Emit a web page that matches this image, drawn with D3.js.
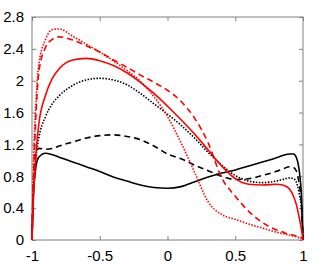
<!DOCTYPE html>
<html>
<head>
<meta charset="utf-8">
<script src="https://cdn.jsdelivr.net/npm/d3@7"></script>
<style>
  body { margin: 0; background: #fff; }
  svg { display: block; }
</style>
</head>
<body>
<div id="chart"></div>
<script>
// x positions shared by every curve
var xs = [-1, -0.99, -0.97, -0.95, -0.9, -0.85, -0.8, -0.7, -0.6, -0.5, -0.4, -0.3, -0.2, -0.1,
          0, 0.1, 0.2, 0.3, 0.4, 0.5, 0.6, 0.7, 0.8, 0.85, 0.9, 0.93, 0.95, 0.97, 0.99, 1];

var blackSolid  = [0, 0.55, 0.93, 1.04, 1.09, 1.07, 1.04, 0.98, 0.92, 0.86, 0.79, 0.74, 0.69, 0.66,
                   0.65, 0.67, 0.73, 0.79, 0.84, 0.88, 0.93, 0.98, 1.03, 1.06, 1.08, 1.08, 1.04, 0.9, 0.5, 0];
var blackDashed = [0, 0.7, 1.08, 1.15, 1.14, 1.15, 1.18, 1.23, 1.28, 1.31, 1.32, 1.30, 1.26, 1.18,
                   1.08, 1.02, 0.94, 0.87, 0.80, 0.76, 0.77, 0.81, 0.86, 0.89, 0.92, 0.91, 0.87, 0.72, 0.4, 0];
var blackDotted = [0, 0.6, 1.05, 1.28, 1.55, 1.71, 1.81, 1.94, 2.01, 2.03, 2.01, 1.95, 1.84, 1.71,
                   1.58, 1.44, 1.28, 1.10, 0.94, 0.81, 0.74, 0.72, 0.74, 0.76, 0.78, 0.77, 0.73, 0.6, 0.35, 0];
var redSolid    = [0, 0.5, 1.1, 1.45, 1.82, 2.03, 2.15, 2.26, 2.28, 2.25, 2.19, 2.10, 1.98, 1.84,
                   1.68, 1.51, 1.33, 1.13, 0.93, 0.77, 0.70, 0.69, 0.70, 0.69, 0.64, 0.55, 0.45, 0.3, 0.12, 0];
var redDashed   = [0, 0.7, 1.6, 2.1, 2.42, 2.52, 2.55, 2.51, 2.44, 2.36, 2.26, 2.17, 2.07, 1.98,
                   1.88, 1.74, 1.53, 1.22, 0.78, 0.55, 0.36, 0.22, 0.13, 0.10, 0.07, 0.06, 0.05, 0.04, 0.03, 0.02];
var redDotted   = [0, 0.9, 1.75, 2.2, 2.52, 2.64, 2.65, 2.56, 2.46, 2.36, 2.25, 2.13, 1.99, 1.80,
                   1.55, 1.22, 0.85, 0.48, 0.32, 0.26, 0.20, 0.15, 0.10, 0.08, 0.06, 0.05, 0.04, 0.03, 0.02, 0.02];

var xTicks = [-1, -0.5, 0, 0.5, 1];
var xLabels = ["-1", "-0.5", "0", "0.5", "1"];
var yTicks = [0, 0.4, 0.8, 1.2, 1.6, 2, 2.4, 2.8];
var yLabels = ["0", "0.4", "0.8", "1.2", "1.6", "2", "2.4", "2.8"];

var width = 327, height = 267;
var margin = {top: 17, right: 24, bottom: 27, left: 32};

var svg = d3.select("#chart").append("svg")
    .attr("width", width)
    .attr("height", height);

var x = d3.scaleLinear().domain([-1, 1]).range([margin.left, width - margin.right]);
var y = d3.scaleLinear().domain([0, 2.8]).range([height - margin.bottom, margin.top]);

var axisColor = "#808080";

// box with inward ticks on all four sides
function styleAxis(g) {
    g.select(".domain").remove();
    g.selectAll(".tick line").attr("stroke", axisColor);
    g.selectAll(".tick text")
        .attr("fill", "#000")
        .style("font-family", "'Liberation Sans', Arial, sans-serif")
        .style("font-size", "15px");
}

svg.append("g")
    .attr("transform", "translate(0," + y(0) + ")")
    .call(d3.axisBottom(x).tickValues(xTicks).tickSizeInner(-4).tickSizeOuter(0).tickPadding(10)
        .tickFormat(function (d, i) { return xLabels[i]; }))
    .call(styleAxis);

svg.append("g")
    .attr("transform", "translate(0," + y(2.8) + ")")
    .call(d3.axisTop(x).tickValues(xTicks).tickSizeInner(-4).tickSizeOuter(0).tickFormat(""))
    .call(styleAxis);

svg.append("g")
    .attr("transform", "translate(" + x(-1) + ",0)")
    .call(d3.axisLeft(y).tickValues(yTicks).tickSizeInner(-4).tickSizeOuter(0).tickPadding(8)
        .tickFormat(function (d, i) { return yLabels[i]; }))
    .call(styleAxis);

svg.append("g")
    .attr("transform", "translate(" + x(1) + ",0)")
    .call(d3.axisRight(y).tickValues(yTicks).tickSizeInner(-4).tickSizeOuter(0).tickFormat(""))
    .call(styleAxis);

svg.append("rect")
    .attr("x", x(-1)).attr("y", y(2.8))
    .attr("width", x(1) - x(-1)).attr("height", y(0) - y(2.8))
    .attr("fill", "none").attr("stroke", axisColor).attr("stroke-width", 1);

var series = [
    {values: blackSolid,  color: "#000", dash: null},
    {values: blackDashed, color: "#000", dash: "6,4"},
    {values: blackDotted, color: "#000", dash: "1.5,1.5"},
    {values: redSolid,    color: "#f00", dash: null},
    {values: redDashed,   color: "#f00", dash: "6,4"},
    {values: redDotted,   color: "#f00", dash: "1.5,1.5"}
];

var line = d3.line()
    .x(function (d) { return x(d[0]); })
    .y(function (d) { return y(d[1]); })
    .curve(d3.curveMonotoneX);

svg.append("g").selectAll("path")
    .data(series)
    .enter().append("path")
    .attr("d", function (s) { return line(d3.zip(xs, s.values)); })
    .attr("fill", "none")
    .attr("stroke", function (s) { return s.color; })
    .attr("stroke-width", 1.6)
    .attr("stroke-dasharray", function (s) { return s.dash; });
</script>
</body>
</html>
